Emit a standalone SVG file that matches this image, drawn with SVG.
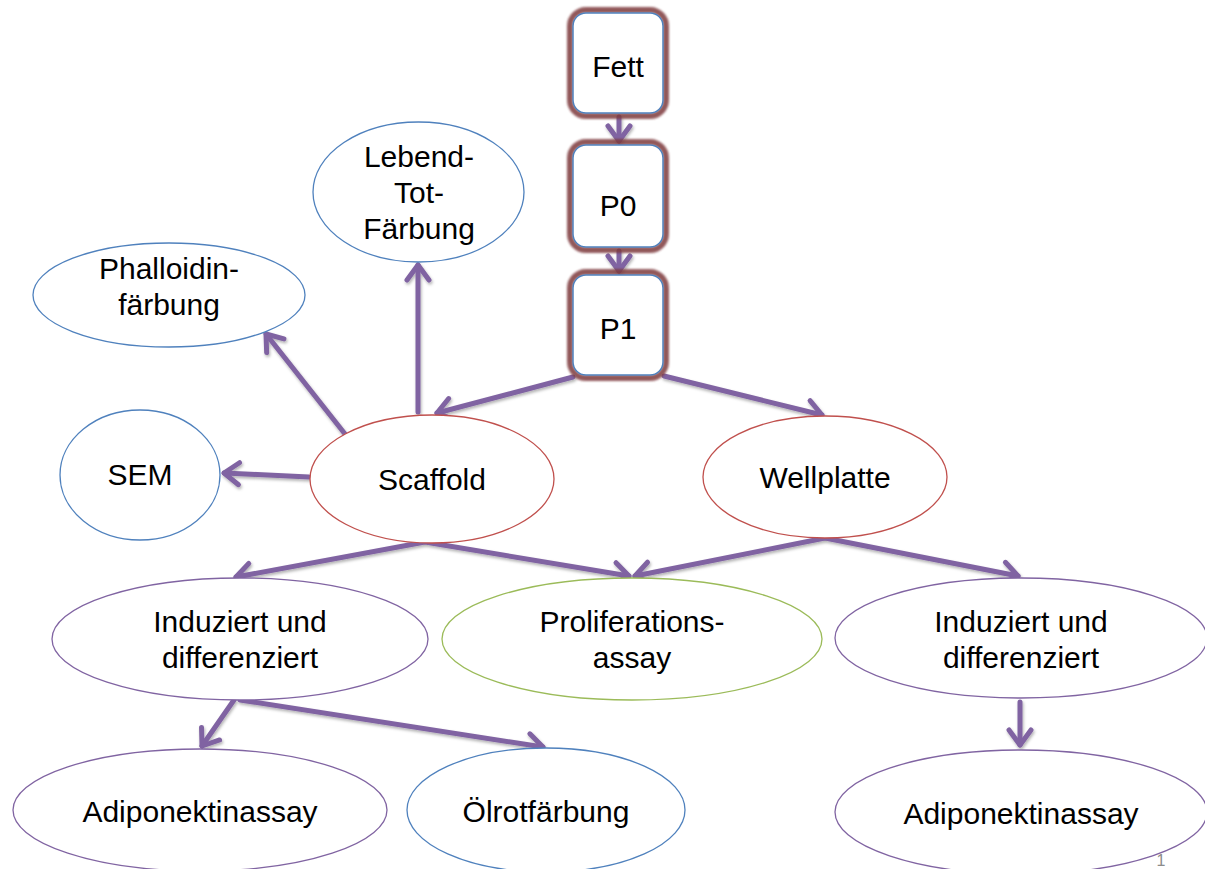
<svg xmlns="http://www.w3.org/2000/svg" width="1205" height="869" viewBox="0 0 1205 869">
<style>
  text { font-family: "Liberation Sans", Arial, sans-serif; font-size: 30px; fill: #000; text-anchor: middle; }
  .e { fill: #fff; stroke-width: 1.3; }
  .blue { stroke: #4f81bd; }
  .red { stroke: #c0504d; }
  .green { stroke: #9bbb59; }
  .purple { stroke: #8064a2; }
  .glow { fill: none; stroke: #7e3b3e; stroke-width: 6; opacity: 0.85; }
  .box { fill: #fff; stroke: #4f81bd; stroke-width: 1.5; }
  .c { fill: none; stroke: #8064a2; stroke-width: 5; stroke-linecap: round; marker-end: url(#ah); }
</style>
<defs>
  <marker id="ah" markerUnits="userSpaceOnUse" markerWidth="40" markerHeight="40" viewBox="-20 -20 40 40" refX="0" refY="0" orient="auto" overflow="visible">
    <path d="M-15,-11 L0,0 L-15,11" fill="none" stroke="#8064a2" stroke-width="5" stroke-linecap="round" stroke-linejoin="round"/>
  </marker>
  <filter id="soft" x="-20%" y="-20%" width="140%" height="140%">
    <feGaussianBlur stdDeviation="1.3"/>
  </filter>
  <filter id="sh" x="-20%" y="-20%" width="140%" height="140%">
    <feDropShadow dx="1" dy="2" stdDeviation="1.5" flood-color="#000" flood-opacity="0.3"/>
  </filter>
</defs>

<g id="connectors" filter="url(#sh)">
  <line class="c" x1="619" y1="117" x2="619" y2="141"/>
  <line class="c" x1="619" y1="251" x2="619" y2="271"/>
  <line class="c" x1="573" y1="377" x2="437" y2="413"/>
  <line class="c" x1="664" y1="376" x2="822" y2="415"/>
  <line class="c" x1="418" y1="412" x2="418" y2="265"/>
  <line class="c" x1="345" y1="434" x2="266" y2="334"/>
  <line class="c" x1="309" y1="477" x2="224" y2="473"/>
  <line class="c" x1="425" y1="542" x2="236" y2="577"/>
  <line class="c" x1="425" y1="542" x2="629" y2="576"/>
  <line class="c" x1="825" y1="538" x2="635" y2="576"/>
  <line class="c" x1="825" y1="538" x2="1018" y2="576"/>
  <line class="c" x1="234" y1="700" x2="202" y2="746"/>
  <line class="c" x1="240" y1="700" x2="543" y2="747"/>
  <line class="c" x1="1020" y1="702" x2="1020" y2="745"/>
</g>

<g id="fett">
  <rect class="glow" x="570" y="10" width="96" height="106" rx="16" filter="url(#soft)"/>
  <rect class="box" x="573" y="13" width="90" height="100" rx="13"/>
  <text x="618" y="77">Fett</text>
</g>
<g id="p0">
  <rect class="glow" x="570" y="142" width="96" height="108" rx="16" filter="url(#soft)"/>
  <rect class="box" x="573" y="145" width="90" height="102" rx="13"/>
  <text x="618" y="216">P0</text>
</g>
<g id="p1">
  <rect class="glow" x="570" y="272" width="96" height="106" rx="16" filter="url(#soft)"/>
  <rect class="box" x="573" y="275" width="90" height="100" rx="13"/>
  <text x="618" y="339">P1</text>
</g>

<g id="lebend">
  <ellipse class="e blue" cx="418.5" cy="192" rx="105.5" ry="70"/>
  <text x="419" y="167">Lebend-</text>
  <text x="419" y="203">Tot-</text>
  <text x="419" y="239">Färbung</text>
</g>
<g id="phalloidin">
  <ellipse class="e blue" cx="169" cy="295" rx="136" ry="52"/>
  <text x="169" y="279">Phalloidin-</text>
  <text x="169" y="315">färbung</text>
</g>
<g id="sem">
  <ellipse class="e blue" cx="140" cy="475" rx="80" ry="65"/>
  <text x="140" y="485">SEM</text>
</g>
<g id="scaffold">
  <ellipse class="e red" cx="432" cy="479" rx="122" ry="64"/>
  <text x="432" y="490">Scaffold</text>
</g>
<g id="wellplatte">
  <ellipse class="e red" cx="825" cy="477" rx="122" ry="61"/>
  <text x="825" y="488">Wellplatte</text>
</g>
<g id="induziert-links">
  <ellipse class="e purple" cx="240" cy="639" rx="188" ry="61"/>
  <text x="240" y="632">Induziert und</text>
  <text x="240" y="668">differenziert</text>
</g>
<g id="proliferation">
  <ellipse class="e green" cx="632" cy="639" rx="190" ry="61"/>
  <text x="632" y="632">Proliferations-</text>
  <text x="632" y="668">assay</text>
</g>
<g id="induziert-rechts">
  <ellipse class="e purple" cx="1021" cy="638" rx="186" ry="60"/>
  <text x="1021" y="632">Induziert und</text>
  <text x="1021" y="668">differenziert</text>
</g>
<g id="adiponektin-links">
  <ellipse class="e purple" cx="200" cy="810" rx="187" ry="61"/>
  <text x="200" y="822">Adiponektinassay</text>
</g>
<g id="oelrot">
  <ellipse class="e blue" cx="546" cy="810" rx="139" ry="62"/>
  <text x="546" y="822">Ölrotfärbung</text>
</g>
<g id="adiponektin-rechts">
  <ellipse class="e purple" cx="1021" cy="812" rx="186" ry="62"/>
  <text x="1021" y="824">Adiponektinassay</text>
</g>

<text x="1161" y="866" style="font-size:16px; fill:#8c8c8c;">1</text>
</svg>
